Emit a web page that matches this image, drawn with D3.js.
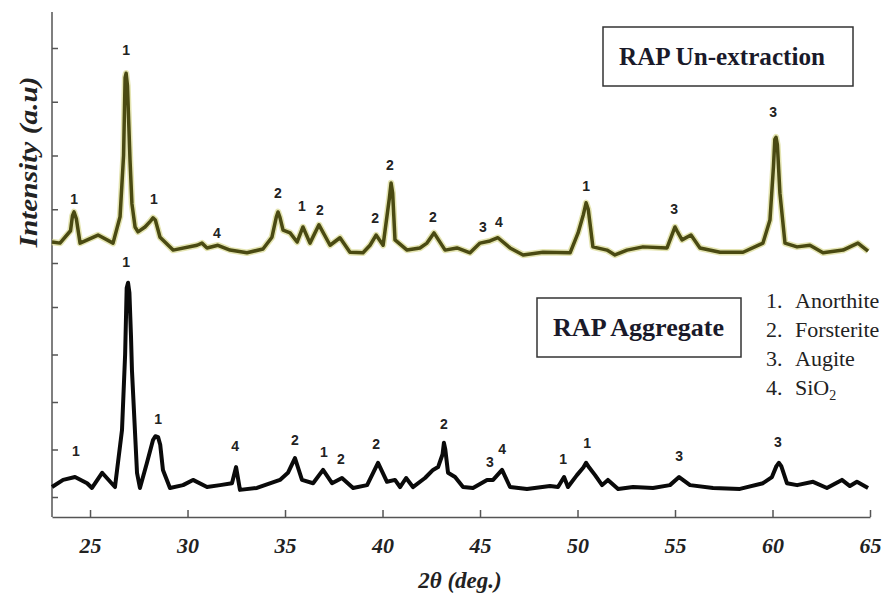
<!DOCTYPE html>
<html>
<head>
<meta charset="utf-8">
<script src="https://cdn.jsdelivr.net/npm/d3@7/dist/d3.min.js"></script>
<style>
  body { margin: 0; background: #fff; }
  svg { display: block; }
</style>
</head>
<body>
<div id="chart"></div>
<script>
// 2-theta (deg.) and intensity (a.u.)
var unextractTheta = [23.05, 23.46, 24.0, 24.1, 24.18, 24.3, 24.49, 25.41, 26.18, 26.54, 26.72, 26.8, 26.85, 26.92, 27.05, 27.15, 27.31, 27.46, 27.82, 28.1, 28.23, 28.35, 28.59, 29.26, 30.49, 30.74, 31.0, 31.56, 32.18, 33.05, 33.87, 34.33, 34.55, 34.64, 34.74, 34.9, 35.26, 35.62, 35.92, 36.28, 36.74, 37.31, 37.82, 38.33, 39.0, 39.36, 39.67, 40.03, 40.35, 40.44, 40.52, 40.64, 41.26, 41.92, 42.28, 42.64, 43.21, 43.82, 44.49, 45.0, 45.51, 45.92, 46.54, 47.21, 48.23, 49.62, 50.03, 50.3, 50.44, 50.55, 50.79, 51.51, 51.92, 52.54, 53.36, 54.59, 55.0, 55.1, 55.36, 55.82, 56.28, 57.31, 58.49, 59.51, 59.87, 60.05, 60.12, 60.18, 60.25, 60.38, 60.64, 61.26, 61.92, 62.59, 63.62, 64.38, 64.9];
var unextractIntensity = [390, 370, 600, 880, 950, 820, 370, 520, 370, 860, 2000, 3450, 3530, 3300, 1920, 1100, 670, 580, 670, 780, 840, 800, 480, 240, 330, 370, 280, 330, 240, 190, 260, 480, 850, 950, 850, 610, 560, 390, 670, 370, 710, 330, 470, 200, 190, 330, 520, 330, 1200, 1490, 1300, 430, 240, 280, 370, 560, 240, 280, 190, 370, 410, 470, 280, 150, 200, 190, 560, 900, 1120, 1000, 300, 240, 150, 240, 300, 280, 670, 600, 430, 520, 280, 200, 200, 370, 800, 1800, 2300, 2340, 2200, 1300, 370, 300, 330, 190, 240, 370, 220];

var aggregateTheta = [23.05, 23.62, 24.23, 24.85, 25.1, 25.62, 26.28, 26.64, 26.8, 26.88, 26.95, 27.02, 27.1, 27.15, 27.41, 27.56, 27.92, 28.23, 28.35, 28.49, 28.6, 28.74, 29.1, 29.77, 30.28, 31.0, 31.67, 32.28, 32.49, 32.69, 33.56, 34.74, 35.15, 35.51, 35.87, 36.44, 36.95, 37.41, 37.92, 38.49, 39.21, 39.77, 40.23, 40.64, 40.9, 41.21, 41.56, 42.18, 42.59, 42.85, 43.08, 43.15, 43.22, 43.36, 43.72, 44.13, 44.64, 45.36, 45.67, 46.13, 46.54, 47.41, 48.59, 49.0, 49.31, 49.51, 49.97, 50.3, 50.44, 50.6, 50.9, 51.26, 51.56, 52.08, 52.85, 53.87, 54.74, 55.21, 55.77, 56.95, 58.33, 59.51, 59.97, 60.2, 60.33, 60.45, 60.74, 61.26, 62.08, 62.79, 63.56, 63.97, 64.33, 64.9];
var aggregateIntensity = [210, 360, 420, 290, 190, 510, 210, 1410, 3000, 4400, 4510, 4300, 3400, 2670, 510, 190, 720, 1200, 1280, 1260, 1100, 570, 190, 250, 360, 210, 250, 290, 630, 150, 190, 360, 510, 820, 360, 290, 570, 290, 400, 190, 250, 720, 320, 360, 210, 400, 210, 400, 570, 630, 900, 1140, 1000, 510, 420, 210, 190, 360, 360, 570, 210, 170, 230, 210, 420, 210, 460, 620, 720, 620, 460, 250, 360, 170, 210, 190, 250, 420, 250, 190, 170, 290, 420, 650, 720, 650, 290, 250, 320, 190, 360, 230, 320, 190];

// peak labels: [2-theta, intensity where the label sits, phase number]
var unextractPeaks = [[24.18, 1190, '1'], [26.85, 3960, '1'], [28.28, 1190, '1'], [31.51, 560, '4'], [34.64, 1300, '2'], [35.87, 1060, '1'], [36.79, 990, '2'], [39.62, 840, '2'], [40.38, 1820, '2'], [42.59, 860, '2'], [45.15, 670, '3'], [45.97, 760, '4'], [50.44, 1430, '1'], [54.95, 1000, '3'], [60.03, 2810, '3']];
var aggregatePeaks = [[24.28, 970, '1'], [26.85, 4950, '1'], [28.49, 1640, '1'], [32.44, 1070, '4'], [35.51, 1200, '2'], [37.0, 950, '1'], [37.87, 800, '2'], [39.67, 1120, '2'], [43.15, 1540, '2'], [45.51, 740, '3'], [46.13, 1010, '4'], [49.26, 800, '1'], [50.49, 1140, '1'], [55.21, 860, '3'], [60.28, 1160, '3']];

var xTicks = [25, 30, 35, 40, 45, 50, 55, 60, 65];
var yTicks = [0, 1000, 2000, 3000, 4000];
var legendNums = ['1.', '2.', '3.', '4.'];
var legendNames = ['Anorthite', 'Forsterite', 'Augite', 'SiO'];

var width = 893, height = 597;
var serif = "'Liberation Serif', 'Times New Roman', serif";
var sans = "'Liberation Sans', Arial, sans-serif";

var svg = d3.select('#chart').append('svg')
    .attr('width', width)
    .attr('height', height);

var xScale = d3.scaleLinear().domain([23.05, 65]).range([52, 870]);
var yTop = d3.scaleLinear().domain([0, 4000]).range([263, 48]);
var yBottom = d3.scaleLinear().domain([0, 4000]).range([497, 307]);

// axes frame
svg.append('line')
    .attr('x1', 52).attr('x2', 52).attr('y1', 12).attr('y2', 517)
    .attr('stroke', '#555').attr('stroke-width', 1.5);

var xAxis = svg.append('g')
    .attr('transform', 'translate(0,517)')
    .call(d3.axisBottom(xScale).tickValues(xTicks).tickSizeInner(-7).tickSizeOuter(0).tickPadding(20));
xAxis.select('.domain').attr('stroke', '#555').attr('stroke-width', 1.5);
xAxis.selectAll('.tick line').attr('stroke', '#555').attr('stroke-width', 1.5);
xAxis.selectAll('text')
    .attr('font-family', serif)
    .attr('font-size', '22px')
    .attr('font-weight', 'bold')
    .attr('font-style', 'italic')
    .attr('fill', '#222');

[yTop, yBottom].forEach(function(sc) {
    var g = svg.append('g')
        .attr('transform', 'translate(52,0)')
        .call(d3.axisLeft(sc).tickValues(yTicks).tickSizeInner(-6).tickSizeOuter(0).tickFormat(''));
    g.select('.domain').remove();
    g.selectAll('.tick line').attr('stroke', '#555').attr('stroke-width', 1.5);
});

// axis titles
svg.append('text')
    .attr('transform', 'translate(37,162) rotate(-90)')
    .attr('text-anchor', 'middle')
    .attr('font-family', serif)
    .attr('font-size', '25px')
    .attr('font-weight', 'bold')
    .attr('font-style', 'italic')
    .attr('fill', '#222')
    .attr('textLength', 171)
    .attr('lengthAdjust', 'spacingAndGlyphs')
    .text('Intensity (a.u)');

var xTitle = svg.append('text')
    .attr('x', 460)
    .attr('y', 588)
    .attr('text-anchor', 'middle')
    .attr('font-family', serif)
    .attr('font-size', '23px')
    .attr('font-weight', 'bold')
    .attr('font-style', 'italic')
    .attr('fill', '#222');
xTitle.append('tspan').text('2');
xTitle.append('tspan').text('\u03B8');
xTitle.append('tspan').text(' (deg.)');

// patterns
var unextractData = unextractTheta.map(function(t, i) { return [t, unextractIntensity[i]]; });
var aggregateData = aggregateTheta.map(function(t, i) { return [t, aggregateIntensity[i]]; });

var lineTop = d3.line()
    .x(function(d) { return xScale(d[0]); })
    .y(function(d) { return yTop(d[1]); });
var lineBottom = d3.line()
    .x(function(d) { return xScale(d[0]); })
    .y(function(d) { return yBottom(d[1]); });

svg.append('path')
    .datum(unextractData)
    .attr('d', lineTop)
    .attr('fill', 'none')
    .attr('stroke', '#d8d890')
    .attr('stroke-width', 6.5)
    .attr('stroke-linejoin', 'round')
    .attr('opacity', 0.7);
svg.append('path')
    .datum(unextractData)
    .attr('d', lineTop)
    .attr('fill', 'none')
    .attr('stroke', '#4a4a12')
    .attr('stroke-width', 3.5)
    .attr('stroke-linejoin', 'round');

svg.append('path')
    .datum(aggregateData)
    .attr('d', lineBottom)
    .attr('fill', 'none')
    .attr('stroke', '#0a0a0a')
    .attr('stroke-width', 4)
    .attr('stroke-linejoin', 'round');

// peak numbers
function drawPeakLabels(peaks, sc) {
    svg.selectAll(null)
        .data(peaks)
        .enter()
        .append('text')
        .attr('x', function(d) { return xScale(d[0]); })
        .attr('y', function(d) { return sc(d[1]); })
        .attr('dy', '0.35em')
        .attr('text-anchor', 'middle')
        .attr('font-family', sans)
        .attr('font-size', '14px')
        .attr('font-weight', 'bold')
        .attr('fill', '#222')
        .text(function(d) { return d[2]; });
}
drawPeakLabels(unextractPeaks, yTop);
drawPeakLabels(aggregatePeaks, yBottom);

// sample name boxes
function drawNameBox(x, y, w, h, label, tx, tlen) {
    svg.append('rect')
        .attr('x', x).attr('y', y).attr('width', w).attr('height', h)
        .attr('fill', '#fff')
        .attr('stroke', '#333')
        .attr('stroke-width', 1.5);
    svg.append('text')
        .attr('x', tx)
        .attr('y', y + h / 2)
        .attr('dy', '0.35em')
        .attr('font-family', serif)
        .attr('font-size', '25px')
        .attr('font-weight', 'bold')
        .attr('fill', '#1a1a2a')
        .attr('textLength', tlen)
        .attr('lengthAdjust', 'spacingAndGlyphs')
        .text(label);
}
drawNameBox(603, 27, 250, 59, 'RAP Un-extraction', 619, 206);
drawNameBox(537, 298, 204, 59, 'RAP Aggregate', 553, 171);

// phase legend
var legend = svg.append('g');
legendNums.forEach(function(n, i) {
    var y = 308 + i * 29;
    legend.append('text')
        .attr('x', 766)
        .attr('y', y)
        .attr('font-family', serif)
        .attr('font-size', '22px')
        .attr('fill', '#222')
        .text(n);
    var t = legend.append('text')
        .attr('x', 795)
        .attr('y', y)
        .attr('font-family', serif)
        .attr('font-size', '22px')
        .attr('fill', '#222')
        .text(legendNames[i]);
    if (i === 3) {
        t.append('tspan')
            .attr('font-size', '14px')
            .attr('dy', 5)
            .text('2');
    }
});
</script>
</body>
</html>
